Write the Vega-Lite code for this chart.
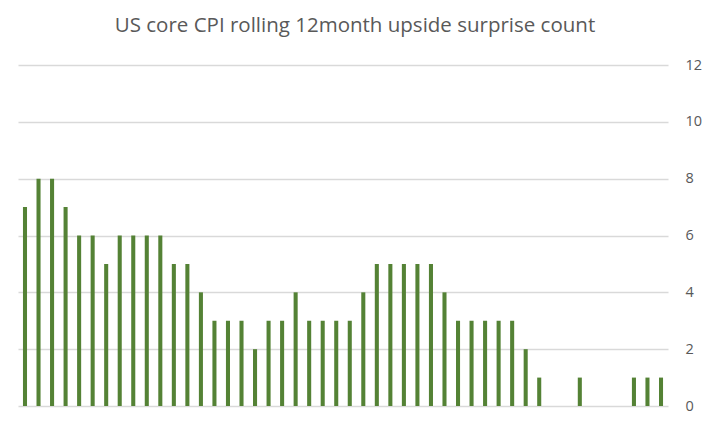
{
  "$schema": "https://vega.github.io/schema/vega-lite/v6.json",
  "description": "US core CPI rolling 12-month upside surprise count.",
  "autosize": {"type": "none"},
  "padding": {"left": 18, "top": 65, "right": 42, "bottom": 18},
  "width": 650,
  "height": 341,
  "background": "white",
  "title": {
    "text": "US core CPI rolling 12month upside surprise count",
    "font": "Open Sans",
    "fontSize": 20.5,
    "fontWeight": "normal",
    "color": "#595959",
    "anchor": "middle",
    "dx": 12,
    "offset": 21
  },
  "data": {
    "values": [
      {"m": 1, "count": 7}, {"m": 2, "count": 8}, {"m": 3, "count": 8}, {"m": 4, "count": 7},
      {"m": 5, "count": 6}, {"m": 6, "count": 6}, {"m": 7, "count": 5}, {"m": 8, "count": 6},
      {"m": 9, "count": 6}, {"m": 10, "count": 6}, {"m": 11, "count": 6}, {"m": 12, "count": 5},
      {"m": 13, "count": 5}, {"m": 14, "count": 4}, {"m": 15, "count": 3}, {"m": 16, "count": 3},
      {"m": 17, "count": 3}, {"m": 18, "count": 2}, {"m": 19, "count": 3}, {"m": 20, "count": 3},
      {"m": 21, "count": 4}, {"m": 22, "count": 3}, {"m": 23, "count": 3}, {"m": 24, "count": 3},
      {"m": 25, "count": 3}, {"m": 26, "count": 4}, {"m": 27, "count": 5}, {"m": 28, "count": 5},
      {"m": 29, "count": 5}, {"m": 30, "count": 5}, {"m": 31, "count": 5}, {"m": 32, "count": 4},
      {"m": 33, "count": 3}, {"m": 34, "count": 3}, {"m": 35, "count": 3}, {"m": 36, "count": 3},
      {"m": 37, "count": 3}, {"m": 38, "count": 2}, {"m": 39, "count": 1}, {"m": 40, "count": 0},
      {"m": 41, "count": 0}, {"m": 42, "count": 1}, {"m": 43, "count": 0}, {"m": 44, "count": 0},
      {"m": 45, "count": 0}, {"m": 46, "count": 1}, {"m": 47, "count": 1}, {"m": 48, "count": 1}
    ]
  },
  "mark": {"type": "bar", "color": "#548235"},
  "encoding": {
    "x": {
      "field": "m",
      "type": "ordinal",
      "axis": null,
      "scale": {"paddingInner": 0.7, "paddingOuter": 0.367}
    },
    "y": {
      "field": "count",
      "type": "quantitative",
      "scale": {"domain": [0, 12]},
      "axis": {
        "orient": "right",
        "title": null,
        "values": [0, 2, 4, 6, 8, 10, 12],
        "domain": false,
        "ticks": false,
        "labelPadding": 17,
        "labelAlign": "left",
        "labelFont": "Open Sans",
        "labelFontSize": 14.5,
        "labelColor": "#595959",
        "gridColor": "#d9d9d9",
        "gridWidth": 1.3
      }
    }
  },
  "config": {
    "view": {"stroke": null}
  }
}
